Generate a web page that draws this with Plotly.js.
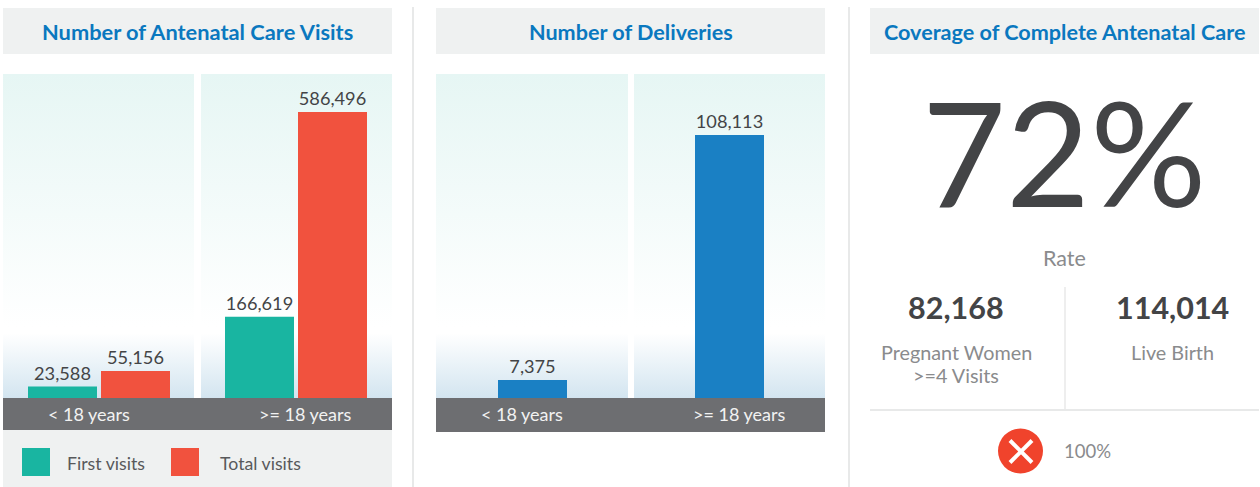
<!DOCTYPE html>
<html><head><meta charset="utf-8">
<script src="https://cdn.plot.ly/plotly-3.0.1.min.js"></script>
<style>html,body{margin:0;padding:0;background:#fff;overflow:hidden}#c{width:1260px;height:487px}</style>
</head><body><div id="c"></div>
<script>
const W = 1260, H = 487;
const ageGroups = ['< 18 years', '>= 18 years'];
const firstVisits = [23588, 166619];
const totalVisits = [55156, 586496];
const deliveries = [7375, 108113];
const panelTitles = ['Number of Antenatal Care Visits', 'Number of Deliveries', 'Coverage of Complete Antenatal Care'];
const legendLabels = ['First visits', 'Total visits'];
const coverage = '72%', coverageLabel = 'Rate';
const pregnantWomen = '82,168', liveBirth = '114,014';
const pregnantLabel = ['Pregnant Women', '>=4 Visits'], liveLabel = 'Live Birth', indicator = '100%';

const FONT = 'Lato, "Open Sans", sans-serif';
const px = v => v / W, py = v => 1 - v / H;
const fmt = v => v.toLocaleString('en-US');
const TEAL = '#19b5a1', RED = '#f1523e', BLUE = '#1a80c4', GREY = '#6d6e71', BAND = '#eff1f1', TITLE = '#0a78bf', DARK = '#434446', MID = '#8a8b8d', RULE = '#e8e9e9';

const grad = 'data:image/svg+xml;utf8,' + encodeURIComponent(
 '<svg xmlns="http://www.w3.org/2000/svg" width="100" height="324" preserveAspectRatio="none"><defs><linearGradient id="g" x1="0" y1="0" x2="0" y2="1">' +
 '<stop offset="0" stop-color="#e6f6f4"/><stop offset="0.78" stop-color="#ffffff"/><stop offset="0.8" stop-color="#ffffff"/><stop offset="1" stop-color="#d3e5f0"/>' +
 '</linearGradient></defs><rect width="100" height="324" fill="url(#g)"/></svg>');
const bgPanels = [[3,194],[201,392],[436,628],[634,825]];
const images = bgPanels.map(p => ({source: grad, xref:'paper', yref:'paper', x:px(p[0]), y:py(74), sizex:px(p[1]-p[0]), sizey:324/H, sizing:'stretch', xanchor:'left', yanchor:'top', layer:'below'}));

const rect = (x0,y0,x1,y1,c,layer) => ({type:'rect',xref:'paper',yref:'paper',x0:px(x0),x1:px(x1),y0:py(y1),y1:py(y0),fillcolor:c,line:{width:0},layer:layer||'below'});
const line = (x0,y0,x1,y1,c,w) => ({type:'line',xref:'paper',yref:'paper',x0:px(x0),x1:px(x1),y0:py(y0),y1:py(y1),line:{color:c,width:w},layer:'below'});
const txt = (text,x,y,size,color,weight) => ({text,xref:'paper',yref:'paper',x:px(x),y:py(y),xanchor:'center',yanchor:'middle',showarrow:false,font:{family:FONT,size,color,weight:weight||400}});

const shapes = [
 rect(3,8,392,54,BAND), rect(436,8,825,54,BAND), rect(870,8,1259,54,BAND),
 rect(3,398,392,430,GREY), rect(436,398,825,432,GREY), rect(3,430,392,487,BAND),
 rect(22,448,50,476,TEAL), rect(171,448,199,476,RED),
 line(413,7,413,487,RULE,2), line(849,7,849,487,RULE,2),
 line(1065,287,1065,409,RULE,1.5), line(870,410,1259,410,RULE,2),
 {type:'circle',xref:'paper',yref:'paper',x0:px(998),x1:px(1043),y0:py(473.5),y1:py(428.5),fillcolor:'#f0432c',line:{width:0}},
 Object.assign(line(1010,440.5,1032,462.5,'#fff',4),{layer:'above'}),
 Object.assign(line(1010,462.5,1032,440.5,'#fff',4),{layer:'above'})
];

const annotations = [
 txt(panelTitles[0],197.5,32,21.8,TITLE,700),
 txt(panelTitles[1],630.5,32,21.6,TITLE,700),
 txt(panelTitles[2],1064.5,32,21.6,TITLE,700),
 txt(ageGroups[0],88.5,413.5,18,'#f2f2f2'), txt(ageGroups[1],305.5,413.5,18,'#f2f2f2'),
 txt(ageGroups[0],522,413.5,18,'#f2f2f2'), txt(ageGroups[1],739,413.5,18,'#f2f2f2'),
 txt(legendLabels[0],106,463,17.7,'#58595b'), txt(legendLabels[1],260.5,463,17.7,'#58595b'),
 txt(coverage,1064,151,145,DARK,400),
 txt(coverageLabel,1064,257.5,21.5,MID),
 txt(pregnantWomen,956,306.5,30.5,DARK,700),
 txt(liveBirth,1172,306.5,30.5,DARK,700),
 txt(pregnantLabel[0],956,351.5,19.8,MID),
 txt(pregnantLabel[1],956,375,19.8,MID),
 txt(liveLabel,1172,351.5,19.8,MID),
 txt(indicator,1087,450.5,18.5,MID)
];

const barW = 69;
const unit = 197;
const barText = {textposition:'outside', cliponaxis:false, textfont:{family:FONT,size:18.2,color:DARK}, hoverinfo:'x+y'};
const traces = [
 Object.assign({type:'bar',name:legendLabels[0],x:[0,1],y:firstVisits,text:firstVisits.map(fmt),marker:{color:TEAL},width:barW/unit,offset:-(barW+2)/unit,xaxis:'x',yaxis:'y'},barText),
 Object.assign({type:'bar',name:legendLabels[1],x:[0,1],y:totalVisits,text:totalVisits.map(fmt),marker:{color:RED},width:barW/unit,offset:2/unit,xaxis:'x',yaxis:'y'},barText),
 Object.assign({type:'bar',name:'Deliveries',x:[0,1],y:deliveries,text:deliveries.map(fmt),marker:{color:BLUE},width:barW/unit,offset:-barW/2/unit,xaxis:'x2',yaxis:'y2'},barText)
];

const hidden = {showgrid:false,zeroline:false,showticklabels:false,ticks:'',showline:false,fixedrange:true};
const layout = {
 width:W,height:H,margin:{l:0,r:0,t:0,b:0},paper_bgcolor:'#fff',plot_bgcolor:'rgba(0,0,0,0)',showlegend:false,
 barmode:'group',
 xaxis:Object.assign({},hidden,{domain:[px(3),px(392)],range:[-(99-3)/unit,(392-99)/unit]}),
 yaxis:Object.assign({},hidden,{domain:[py(398),py(74)],range:[0,664400]}),
 xaxis2:Object.assign({},hidden,{domain:[px(436),px(825)],range:[-(532.5-436)/unit,(825-532.5)/unit],anchor:'y2'}),
 yaxis2:Object.assign({},hidden,{domain:[py(398),py(74)],range:[0,133190],anchor:'x2'}),
 images,shapes,annotations
};
Plotly.newPlot('c',traces,layout,{displayModeBar:false,staticPlot:true});
</script></body></html>
